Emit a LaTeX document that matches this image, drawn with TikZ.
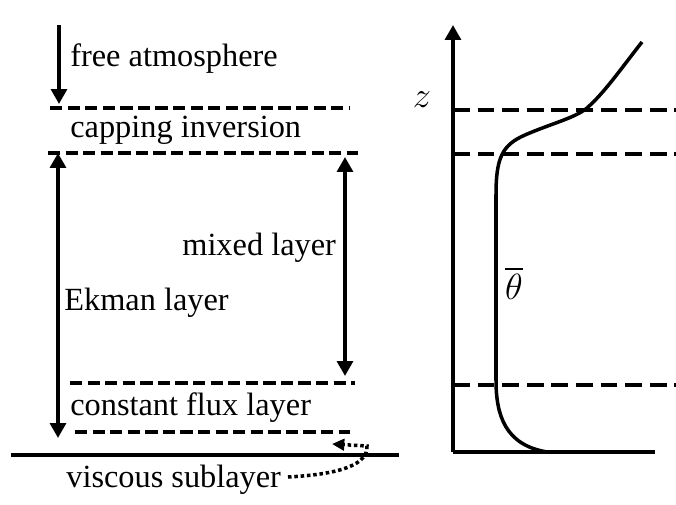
\documentclass[tikz,border=0pt]{standalone}
\usepackage{amsmath}
\usepackage{fontspec}
\setmainfont{Liberation Serif}
\usetikzlibrary{arrows.meta}

\tikzset{
  layerline/.style={line width=2pt, dash pattern=on 7pt off 3pt},
  profline/.style={line width=2pt, dash pattern=on 9.5pt off 4.5pt},
  solidline/.style={line width=2pt},
  tip/.style={-{Triangle[length=8.5pt,width=9pt]}},
  bothtips/.style={{Triangle[length=8.5pt,width=9pt]}-{Triangle[length=8.5pt,width=9pt]}},
  lbl/.style={anchor=base west, inner sep=0pt, font=\fontsize{18.4}{22}\selectfont},
  mathlbl/.style={inner sep=0pt, font=\fontsize{22}{26}\selectfont}
}

\begin{document}
\begin{tikzpicture}[scale=0.2]
\useasboundingbox (0,0) rectangle (67.6,-50.4);
% layer names
\node[lbl] (free) at (7.0,-6.6) {free atmosphere};
\node[lbl] (capping) at (7.0,-13.7) {capping inversion};
\node[lbl] (mixed) at (18.2,-25.5) {mixed layer};
\node[lbl] (ekman) at (6.4,-31.0) {Ekman layer};
\node[lbl] (flux) at (7.0,-41.5) {constant flux layer};
\node[lbl] (viscous) at (6.6,-48.7) {viscous sublayer};
% arrow ends
\coordinate (faTop) at (5.9,-2.5);
\coordinate (faBot) at (5.9,-10.4);
\coordinate (ekTop) at (5.8,-15.3);
\coordinate (ekBot) at (5.8,-43.8);
\coordinate (mlTop) at (34.5,-15.7);
\coordinate (mlBot) at (34.5,-37.6);
\coordinate (vsStart) at (28.8,-47.7);
\coordinate (vsTurn) at (36.7,-44.6);
\coordinate (vsTip) at (33.2,-44.4);
% interfaces, left
\draw[layerline] (5.0,-10.8) -- (35.0,-10.8);
\draw[layerline] (4.8,-15.3) -- (35.8,-15.3);
\draw[layerline] (7.0,-38.3) -- (35.5,-38.3);
\draw[layerline] (7.5,-43.2) -- (35.0,-43.2);
\draw[solidline] (1.1,-45.5) -- (39.9,-45.5);
% arrows, left
\draw[solidline,tip] (faTop) -- (faBot);
\draw[solidline,bothtips] (ekTop) -- (ekBot);
\draw[solidline,bothtips] (mlTop) -- (mlBot);
\draw[line width=2pt, dash pattern=on 2pt off 1.6pt, -{Triangle[length=7pt,width=6.5pt]}]
  (vsStart) .. controls (34.5,-47.4) and (36.8,-46.3) .. (vsTurn) -- (vsTip);
% profile
\coordinate (origin) at (45.3,-45.2);
\coordinate (zTop) at (45.3,-2.5);
\coordinate (thEnd) at (65.5,-45.2);
\draw[solidline,tip] (origin) -- (zTop);
\draw[solidline] (origin) -- (thEnd);
\node[mathlbl] (zlabel) at (42.2,-10.0) {$z$};
\draw[profline] (45.3,-11.0) -- (67.6,-11.0);
\draw[profline] (45.3,-15.4) -- (67.6,-15.4);
\draw[profline] (45.3,-38.5) -- (67.6,-38.5);
\draw[solidline] (56.3,-45.2) -- (54.7,-45.2)
  .. controls (50.5,-44.5) and (49.6,-41.5) .. (49.6,-38.0) -- (49.6,-19.5)
  .. controls (49.6,-15.8) and (50.2,-14.5) .. (52.5,-13.5)
  .. controls (55,-12.4) and (57.5,-11.8) .. (58.7,-10.8)
  .. controls (60.5,-9.2) and (62,-7) .. (64.2,-4.2);
\node[mathlbl] (thetabar) at (51.4,-28.3) {$\overline{\theta}$};
\end{tikzpicture}
\end{document}
